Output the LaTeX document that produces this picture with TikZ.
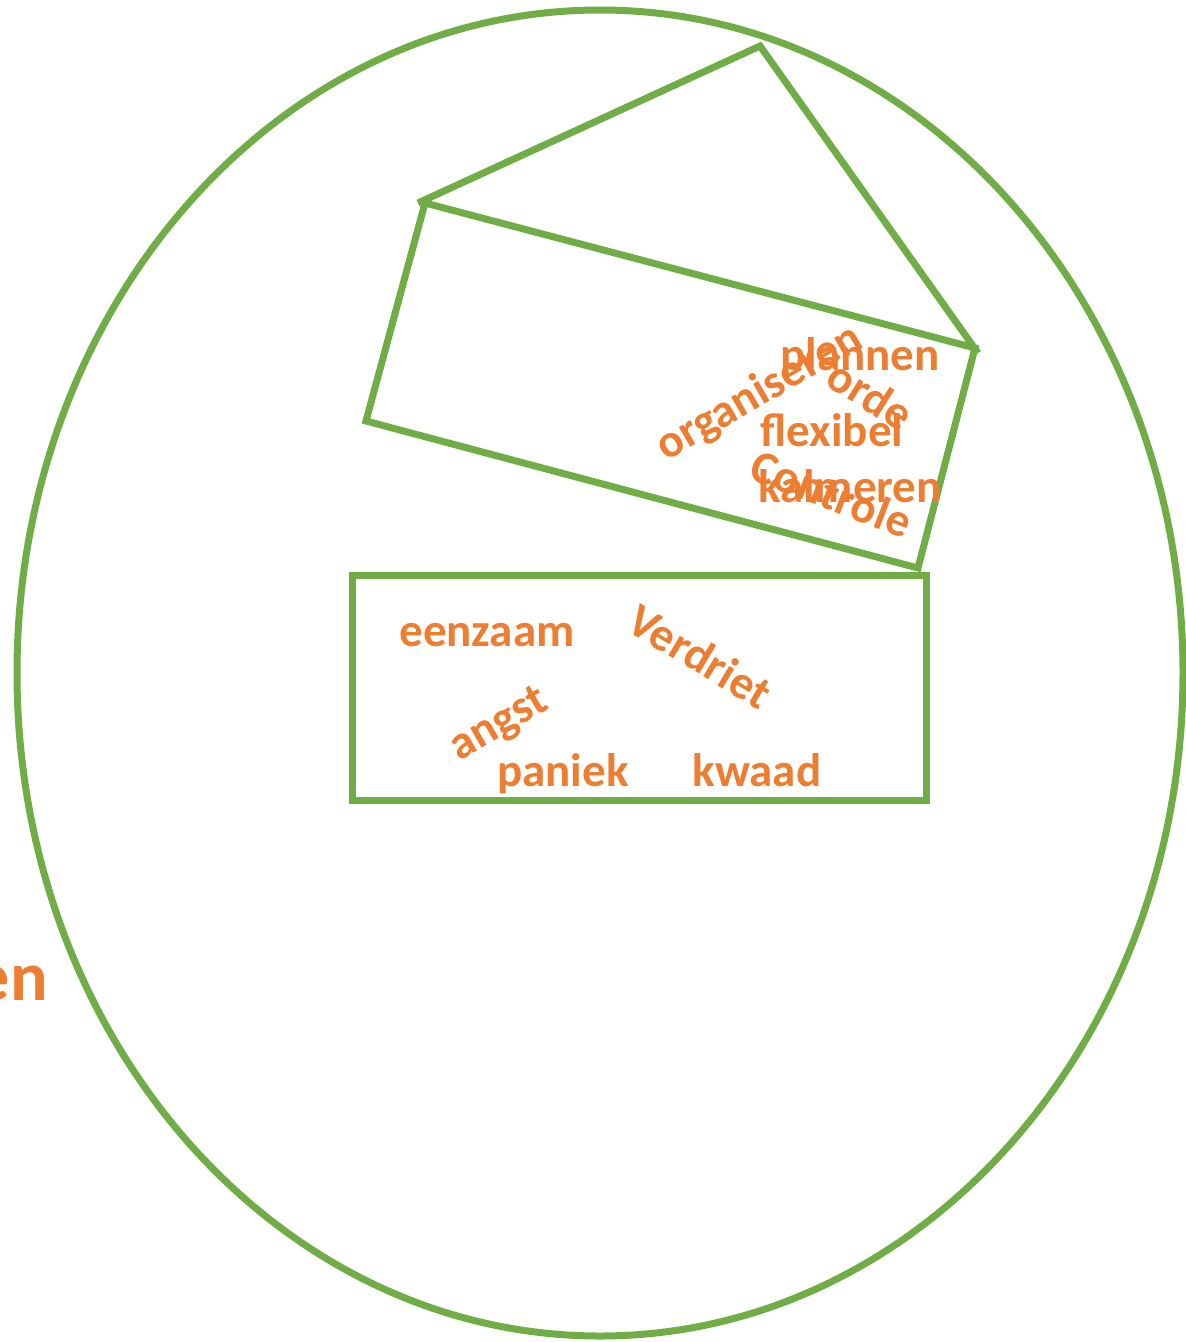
\documentclass[tikz,border=0pt]{standalone}
\usepackage{fontspec}
\setmainfont{Carlito}
\definecolor{lgreen}{HTML}{70AD47}
\definecolor{lorange}{HTML}{ED7D31}
\begin{document}
\begin{tikzpicture}[x=1pt,y=-1pt,
  shape line/.style={draw=lgreen,line width=7pt},
  word/.style={text=lorange,font=\fontsize{47}{55}\selectfont\bfseries,inner sep=0pt,anchor=base}]
\useasboundingbox (0,0) rectangle (1186,1342);
% outer ellipse
\draw[shape line] (600,673) ellipse [x radius=583, y radius=663];
% rotated rectangle
\draw[shape line,line join=miter] (425,203) -- (975,348) -- (918,568) -- (366,421) -- cycle;
% triangle roof
\draw[shape line,line join=miter] (418,203) -- (760,46) -- (978,353);
% lower rectangle
\draw[shape line] (352,575) rectangle (926,800);
% words in rotated rectangle
\node[word] (plannen) at (860,370) {plannen};
\node[word,rotate=30] (organiseren) at (766,404) {organiseren};
\node[word,rotate=-32] (orde) at (862,408) {orde};
\node[word] (flexibel) at (832,446) {flexibel};
\node[word] (kalmeren) at (850,502) {kalmeren};
\node[word,rotate=-21] (controle) at (826,509) {Controle};
% words in lower rectangle
\node[word] (eenzaam) at (487,646) {eenzaam};
\node[word,rotate=-31] (verdriet) at (692,670) {Verdriet};
\node[word,rotate=30] (angst) at (505,735) {angst};
\node[word] (paniek) at (563,786) {paniek};
\node[word] (kwaad) at (757,786) {kwaad};
% cut-off word at left
\node[text=lorange,font=\fontsize{70}{80}\selectfont\bfseries,inner sep=0pt,anchor=base east] (en) at (48,1000) {en};
\end{tikzpicture}
\end{document}
